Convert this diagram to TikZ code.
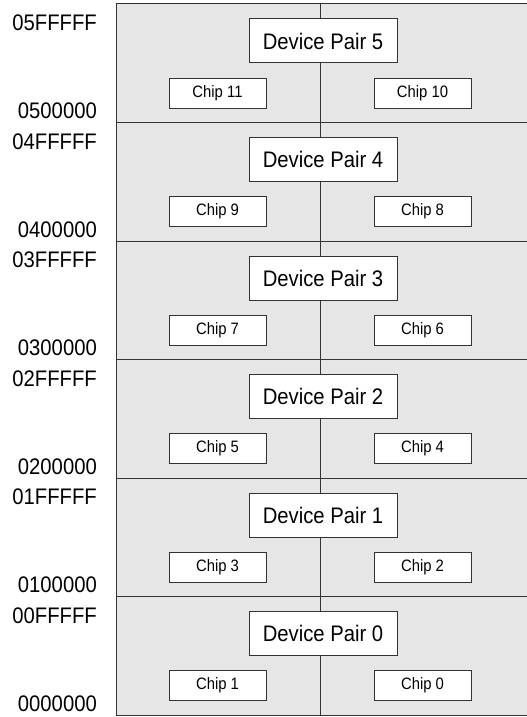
\documentclass[tikz,border=0pt]{standalone}
\usepackage{fontspec}
\setmainfont{Liberation Sans}[FakeStretch=0.9]
\definecolor{bandgray}{HTML}{E6E6E6}
\definecolor{linegray}{HTML}{333333}
\tikzset{
  pairbox/.style={draw=linegray, line width=1pt, fill=white, minimum width=148pt, minimum height=44pt, inner sep=0pt, font=\fontsize{22.5}{26}\selectfont},
  chipbox/.style={draw=linegray, line width=1pt, fill=white, minimum width=97pt, minimum height=30pt, inner sep=0pt, font=\fontsize{16.5}{19}\selectfont},
  addr/.style={anchor=base east, inner sep=0pt, font=\fontsize{22.5}{26}\selectfont},
  divline/.style={draw=linegray, line width=1pt}
}
\begin{document}
\begin{tikzpicture}[x=1pt,y=-1pt]
\useasboundingbox (0,0) rectangle (527,717);
\begin{scope}
\clip (0,0) rectangle (527,717);
\fill[bandgray] (116,4) rectangle (540,715);
\draw[divline] (116,4) rectangle (540,715);
\end{scope}
\foreach \i in {0,...,5}{
  \pgfmathsetmacro{\top}{4+118.5*\i}
  \pgfmathsetmacro{\bot}{\top+118.5}
  \pgfmathtruncatemacro{\p}{5-\i}
  \pgfmathtruncatemacro{\cl}{2*\p+1}
  \pgfmathtruncatemacro{\cr}{2*\p}
  \coordinate (t\p) at (320,\top);
  \coordinate (b\p) at (320,\bot);
  \draw[divline] (116,\bot) -- (527,\bot);
  \node[pairbox] (dp\p) at (323,\top+37) {Device Pair \p};
  \draw[divline] (t\p) -- (t\p |- dp\p.north);
  \draw[divline] (b\p |- dp\p.south) -- (b\p);
  \node[chipbox] (cl\p) at (217.5,\top+89) {Chip \cl};
  \node[chipbox] (cr\p) at (422.5,\top+89) {Chip \cr};
  \node[addr] (hi\p) at (97,\top+26.5) {0\p FFFFF};
  \node[addr] (lo\p) at (97,\bot-4) {0\p 00000};
}
\end{tikzpicture}
\end{document}
